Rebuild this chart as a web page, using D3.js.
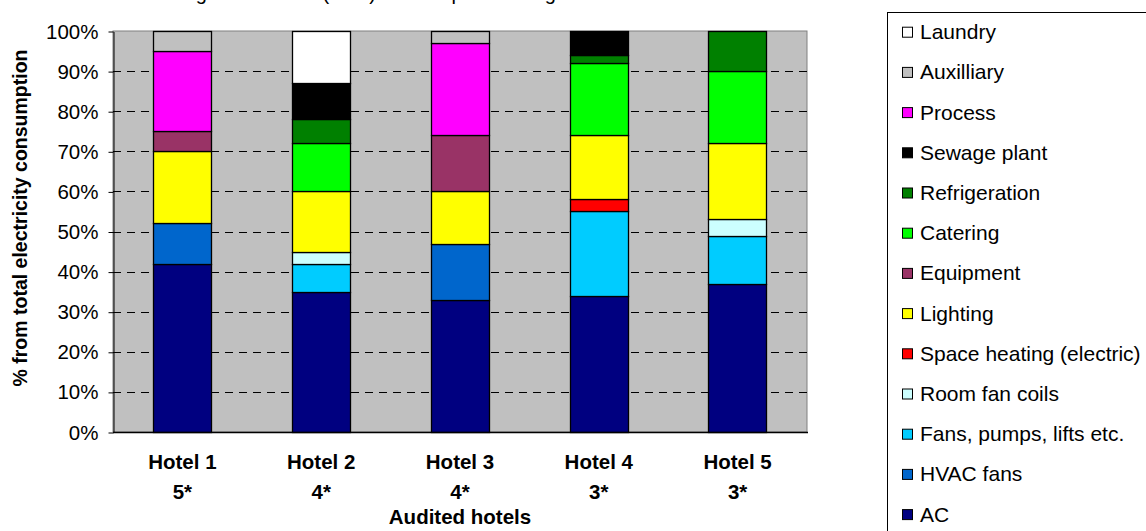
<!DOCTYPE html>
<html>
<head>
<meta charset="utf-8">
<script src="https://cdn.jsdelivr.net/npm/d3@7"></script>
<style>
  html, body { margin: 0; padding: 0; background: #fff; overflow: hidden; }
  svg { display: block; font-family: Arial, "Liberation Sans", sans-serif; }
</style>
</head>
<body>
<svg id="chart" width="1146" height="531"></svg>
<script>
// Hotels on the category axis (two-line labels)
const hotels = ["Hotel 1", "Hotel 2", "Hotel 3", "Hotel 4", "Hotel 5"];
const stars = ["5*", "4*", "4*", "3*", "3*"];

// End uses, stacked bottom to top
const endUses = ["AC", "HVAC fans", "Fans, pumps, lifts etc.", "Room fan coils",
  "Space heating (electric)", "Lighting", "Equipment", "Catering",
  "Refrigeration", "Sewage plant", "Process", "Auxilliary", "Laundry"];

const useColors = ["#000080", "#0066CC", "#00CCFF", "#CCFFFF", "#FF0000",
  "#FFFF00", "#993366", "#00FF00", "#008000", "#000000", "#FF00FF",
  "#C0C0C0", "#FFFFFF"];

// Share of total electricity consumption (%) per end use, one value per hotel
const AC            = [42, 35, 33, 34, 37];
const hvacFans      = [10,  0, 14,  0,  0];
const fansPumps     = [ 0,  7,  0, 21, 12];
const roomFanCoils  = [ 0,  3,  0,  0,  4];
const spaceHeating  = [ 0,  0,  0,  3,  0];
const lighting      = [18, 15, 13, 16, 19];
const equipment     = [ 5,  0, 14,  0,  0];
const catering      = [ 0, 12,  0, 18, 18];
const refrigeration = [ 0,  6,  0,  2, 10];
const sewagePlant   = [ 0,  9,  0,  6,  0];
const process       = [20,  0, 23,  0,  0];
const auxilliary    = [ 5,  0,  3,  0,  0];
const laundry       = [ 0, 13,  0,  0,  0];

const yTicks = [0, 10, 20, 30, 40, 50, 60, 70, 80, 90, 100];

const seriesValues = [AC, hvacFans, fansPumps, roomFanCoils, spaceHeating,
  lighting, equipment, catering, refrigeration, sewagePlant, process,
  auxilliary, laundry];

const table = hotels.map((h, i) => {
  const row = { hotel: h };
  endUses.forEach((u, k) => { row[u] = seriesValues[k][i]; });
  return row;
});

const svg = d3.select("#chart");
const plot = { left: 113, top: 31, right: 807, bottom: 432 };

const x = d3.scaleBand().domain(hotels)
  .range([plot.left, plot.right]).paddingInner(0.58).paddingOuter(0.29);
const y = d3.scaleLinear().domain([0, 100]).range([plot.bottom, plot.top]);

// Plot area background
svg.append("rect")
  .attr("x", plot.left).attr("y", plot.top)
  .attr("width", plot.right - plot.left).attr("height", plot.bottom - plot.top)
  .attr("fill", "#C0C0C0").attr("stroke", "#808080").attr("stroke-width", 1);

// Dashed horizontal gridlines
svg.append("g").selectAll("line").data(yTicks.filter(t => t > 0 && t < 100)).join("line")
  .attr("x1", plot.left).attr("x2", plot.right)
  .attr("y1", d => Math.round(y(d)) + 0.5).attr("y2", d => Math.round(y(d)) + 0.5)
  .attr("stroke", "#000").attr("stroke-width", 1).attr("stroke-dasharray", "8,6");

// Stacked bars
const stack = d3.stack().keys(endUses);
const layers = stack(table);
svg.append("g").selectAll("g").data(layers).join("g")
  .attr("fill", (d, i) => useColors[i])
  .selectAll("rect").data(d => d.filter(s => s[1] - s[0] > 0)).join("rect")
    .attr("x", d => Math.round(x(d.data.hotel)) + 0.5)
    .attr("width", Math.round(x.bandwidth()))
    .attr("y", d => Math.round(y(d[1])) + 0.5)
    .attr("height", d => Math.round(y(d[0])) - Math.round(y(d[1])))
    .attr("stroke", "#000").attr("stroke-width", 1.3);

// Y axis
const yAxis = d3.axisLeft(y).tickValues(yTicks).tickFormat(d => d + "%")
  .tickSizeInner(5).tickSizeOuter(0).tickPadding(10);
const gy = svg.append("g").attr("transform", `translate(${plot.left + 0.5},0.5)`).call(yAxis);
gy.select(".domain").attr("stroke", "#000");
gy.selectAll(".tick line").attr("stroke", "#000");
gy.selectAll(".tick text").attr("font-size", "20.5px").attr("fill", "#000")
  .attr("font-family", "Arial, 'Liberation Sans', sans-serif");

// X axis line
svg.append("line")
  .attr("x1", plot.left).attr("x2", plot.right + 1)
  .attr("y1", plot.bottom + 0.5).attr("y2", plot.bottom + 0.5)
  .attr("stroke", "#000").attr("stroke-width", 1.5);

// Category labels
const xl = svg.append("g").attr("font-size", "20.5px").attr("font-weight", "bold")
  .attr("text-anchor", "middle");
xl.selectAll("text.h").data(hotels).join("text").attr("class", "h")
  .attr("x", d => x(d) + x.bandwidth() / 2).attr("y", 469).text(d => d);
xl.selectAll("text.s").data(stars).join("text").attr("class", "s")
  .attr("x", (d, i) => x(hotels[i]) + x.bandwidth() / 2).attr("y", 499).text(d => d);

// Axis titles
svg.append("text").attr("x", (plot.left + plot.right) / 2).attr("y", 524)
  .attr("text-anchor", "middle").attr("font-size", "20.5px").attr("font-weight", "bold")
  .text("Audited hotels");
svg.append("text").attr("transform", "translate(27,218) rotate(-90)")
  .attr("text-anchor", "middle").attr("font-size", "19.5px").attr("font-weight", "bold")
  .text("% from total electricity consumption");

// Chart title, running off the top edge
svg.append("text").attr("x", 377).attr("y", 0)
  .attr("text-anchor", "middle").attr("font-size", "20px")
  .text("Percentage of the total (kWh) consumption during the audit");

// Legend (top entry = top of stack)
const legend = svg.append("g");
legend.append("rect").attr("x", 887.5).attr("y", 12.5)
  .attr("width", 300).attr("height", 560)
  .attr("fill", "#fff").attr("stroke", "#000").attr("stroke-width", 1);
const legendOrder = endUses.map((u, i) => i).reverse();
const items = legend.selectAll("g.item").data(legendOrder).join("g").attr("class", "item")
  .attr("transform", (d, j) => `translate(0,${31.7 + j * 40.2})`);
items.append("rect").attr("x", 902.5).attr("y", -4.5).attr("width", 10).attr("height", 10)
  .attr("fill", d => useColors[d]).attr("stroke", "#000").attr("stroke-width", 1);
items.append("text").attr("x", 920).attr("y", 7.5).attr("font-size", "21px")
  .text(d => endUses[d]);
</script>
</body>
</html>
